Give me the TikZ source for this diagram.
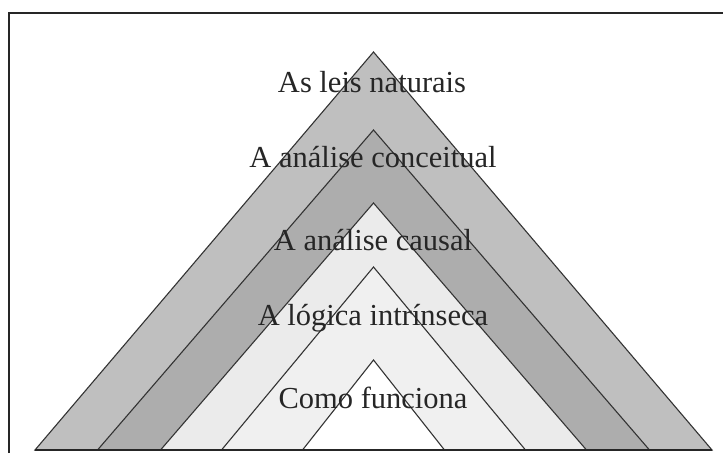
\documentclass[tikz,border=0pt]{standalone}
\usepackage{fontspec}
\setmainfont{Liberation Serif}
\usepackage{tikz}
\usetikzlibrary{positioning,calc}
\definecolor{LayerOne}{gray}{0.75}
\definecolor{LayerTwo}{gray}{0.68}
\definecolor{LayerThree}{gray}{0.92}
\definecolor{LayerFour}{gray}{0.94}
\tikzset{
    layerlabel/.style={font=\fontsize{30.5}{33}\selectfont,text=black!85,inner sep=0pt},
}
% #1 apex height, #2 half width of the base, #3 fill colour
\newcommand{\layer}[3]{%
    \filldraw[fill=#3,draw=black!80,line width=1.1pt,line join=miter]
        ({373.5-#2},450)--(373.5,#1)--({373.5+#2},450)--cycle;
}

\begin{document}
\begin{tikzpicture}[x=1pt,y=-1pt]
            \useasboundingbox (0,0) rectangle (723,453);
            \fill[white] (0,0) rectangle (723,453);
            % frame
            \draw[black!85,line width=1.6pt] (9,453)--(9,13)--(723,13);
            % layers, outside in
            \layer{52}{338.5}{LayerOne}
            \layer{130}{276}{LayerTwo}
            \layer{203}{213}{LayerThree}
            \layer{267}{152}{LayerFour}
            \layer{360}{71}{white}
            \draw[black!85,line width=1.6pt] (35,450)--(712,450);
            % labels
            \node[layerlabel] (leis) at (372,82) {As leis naturais};
            \node[layerlabel] (conceitual) at (373,157) {A análise conceitual};
            \node[layerlabel] (causal) at (373,240) {A análise causal};
            \node[layerlabel] (logica) at (373,318) {A lógica intrínseca};
            \node[layerlabel] (funciona) at (373,398) {Como funciona};
        \end{tikzpicture}
\end{document}
